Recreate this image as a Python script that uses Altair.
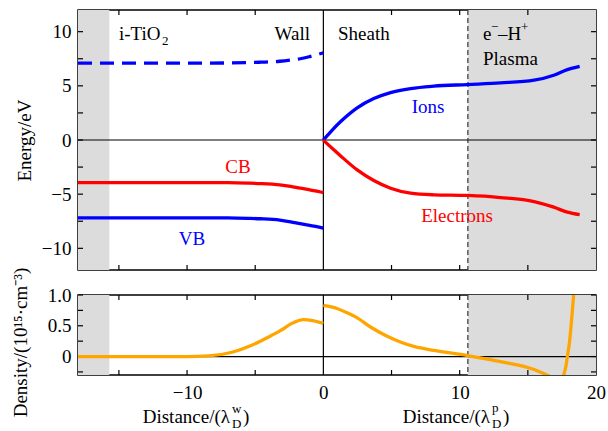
import altair as alt
import pandas as pd

FONT = "Liberation Serif"
FS = 19
FS_SMALL = 13
W, H1, H2 = 518, 260, 80

# ---------------- data ----------------
x_domain = [-18, 20]
e_domain = [-12, 12]
d_domain = [-0.3, 1.0]

band_x = [-18, -10, -7, -5.5, -4.6, -3.2, -2.4, -1.7, -1.0, -0.4, 0]
cb_y = [-3.93, -3.93, -3.94, -3.98, -4.02, -4.14, -4.28, -4.45, -4.6, -4.75, -4.85]
vb_y = [-7.18, -7.18, -7.19, -7.23, -7.27, -7.39, -7.55, -7.72, -7.88, -8.02, -8.13]
vac_y = [7.1, 7.1, 7.11, 7.14, 7.18, 7.27, 7.38, 7.5, 7.7, 7.9, 8.05]

sheath_x = [0, 0.6, 1.25, 2.48, 3.7, 4.93, 6.4, 8.1, 10.56, 13.0, 15.46, 16.9, 17.9, 18.8]
ions_y = [0, 0.85, 1.68, 2.97, 3.83, 4.38, 4.75, 4.97, 5.12, 5.27, 5.52, 5.98, 6.5, 6.8]
elec_y = [0, -0.72, -1.45, -2.76, -3.74, -4.45, -4.91, -5.06, -5.12, -5.31, -5.68, -6.2, -6.66, -6.9]

dens_left_x = [-18, -10, -8.4, -6.7, -5.3, -4.0, -3.16, -2.3, -1.45, -0.7, 0]
dens_left_y = [0, 0, 0.01, 0.07, 0.18, 0.32, 0.42, 0.54, 0.6, 0.58, 0.54]
dens_right_x = [0, 1.0, 1.74, 2.4, 3.46, 4.5, 5.6, 6.7, 8.1, 10.56, 13.0, 15.46, 16.6]
dens_right_y = [0.83, 0.78, 0.71, 0.64, 0.48, 0.35, 0.24, 0.16, 0.1, 0.016, -0.083, -0.21, -0.32]
dens_tail_x = [17.6, 17.8, 17.9, 18.06, 18.2, 18.36]
dens_tail_y = [-0.32, -0.15, 0, 0.24, 0.57, 1.0]

hatch_start = [-18, 10.6]
hatch_end = [-15.7, 20]
plasma_edge = [10.6]
zero = [0]

e_ticks = [-10, -7.5, -5, -2.5, 0, 2.5, 5, 7.5, 10]
e_labels = [-10, -5, 0, 5, 10]
d_ticks = [-0.25, 0, 0.25, 0.5, 0.75, 1.0]
d_labels = [0, 0.5, 1.0]
x_ticks = [-15, -10, -5, 5, 10, 15]
x_labels = [-10, 0, 10, 20]

BLUE = "#0000ff"
RED = "#ff0000"
ORANGE = "#ffa500"
HATCH = "#dcdcdc"

xs = alt.Scale(domain=x_domain, nice=False, zero=False)
es = alt.Scale(domain=e_domain, nice=False, zero=False)
ds = alt.Scale(domain=d_domain, nice=False, zero=False)


def df(**cols):
    return pd.DataFrame(cols)


def text(t, px, py, size=FS, color="black", align="left", baseline="middle", angle=0):
    return alt.Chart(df(t=[t])).mark_text(
        font=FONT, fontSize=size, color=color, align=align, baseline=baseline, angle=angle
    ).encode(x=alt.value(px), y=alt.value(py), text="t:N")


def make_panel(h, yscale, yaxis, xaxis, ticks_y, curves, texts):
    X = lambda f: alt.X(f, scale=xs, axis=xaxis)
    Y = lambda f: alt.Y(f, scale=yscale, axis=yaxis)
    layers = []
    layers.append(alt.Chart(df(a=hatch_start, b=hatch_end)).mark_rect(fill=HATCH).encode(
        x=X("a:Q"), x2="b:Q", y=alt.value(0), y2=alt.value(h)))
    layers.append(alt.Chart(df(v=zero)).mark_rule(color="black", strokeWidth=1.2).encode(y=Y("v:Q")))
    layers.append(alt.Chart(df(v=zero)).mark_rule(color="black", strokeWidth=1.2).encode(x=X("v:Q")))
    layers.append(alt.Chart(df(v=plasma_edge)).mark_rule(color="#333333", strokeWidth=1.2,
                                                         strokeDash=[5, 3]).encode(x=X("v:Q")))
    yt = df(v=ticks_y)
    layers.append(alt.Chart(yt).mark_rule(color="black", strokeWidth=1.2).encode(
        y=Y("v:Q"), x=alt.value(0), x2=alt.value(5)))
    layers.append(alt.Chart(yt).mark_rule(color="black", strokeWidth=1.2).encode(
        y=Y("v:Q"), x=alt.value(W - 5), x2=alt.value(W)))
    xt = df(v=x_ticks)
    layers.append(alt.Chart(xt).mark_rule(color="black", strokeWidth=1.2).encode(
        x=X("v:Q"), y=alt.value(0), y2=alt.value(5)))
    layers.append(alt.Chart(xt).mark_rule(color="black", strokeWidth=1.2).encode(
        x=X("v:Q"), y=alt.value(h - 5), y2=alt.value(h)))
    for xv, yv, color, dash in curves:
        kw = dict(color=color, strokeWidth=3.3, interpolate="monotone", clip=True)
        if dash:
            kw["strokeDash"] = dash
        layers.append(alt.Chart(df(x=xv, y=yv)).mark_line(**kw).encode(x=X("x:Q"), y=Y("y:Q")))
    layers.extend(texts)
    return alt.layer(*layers).properties(width=W, height=h)


# ---------------- top panel ----------------
e_axis = alt.Axis(values=e_labels, title="Energy/eV", titleFont=FONT, titleFontSize=FS,
                  titleFontWeight="normal", titleX=-54, titleY=H1 / 2, titleAngle=270,
                  titleAlign="center", titleBaseline="middle", labelPadding=7)

top_texts = [
    text("i-TiO", 41, 24),
    text("2", 84, 31, size=FS_SMALL),
    text("Wall", 232, 24, align="right"),
    text("Sheath", 260, 24),
    text("e", 405, 24),
    text("\u2212", 413, 17, size=FS_SMALL),
    text("\u2013H", 420, 24),
    text("+", 443, 17, size=FS_SMALL),
    text("Plasma", 405, 49),
    text("CB", 160, 157, color=RED, align="center"),
    text("VB", 114, 229, color=BLUE, align="center"),
    text("Ions", 350, 97, color=BLUE, align="center"),
    text("Electrons", 379, 206, color=RED, align="center"),
]

top = make_panel(
    H1, es, e_axis, None, e_ticks,
    [
        (band_x, vac_y, BLUE, [14, 8]),
        (band_x, cb_y, RED, None),
        (band_x, vb_y, BLUE, None),
        (sheath_x, ions_y, BLUE, None),
        (sheath_x, elec_y, RED, None),
    ],
    top_texts,
)

# ---------------- bottom panel ----------------
d_axis = alt.Axis(values=d_labels, title="Density/(10\u00b9\u2075\u00b7cm\u207b\u00b3)", titleFont=FONT,
                  titleFontSize=FS, titleFontWeight="normal", titleX=-58, titleY=47, titleAngle=270,
                  titleAlign="center", titleBaseline="middle", labelPadding=7,
                  labelExpr="datum.value == 0 ? '0' : format(datum.value, '.1f')")
x_axis = alt.Axis(values=x_labels, title=None, labelPadding=8, labelFlush=False)

bot_texts = [
    text("Distance/(\u03bb", 152, 122, align="right"),
    text("w", 154, 114, size=FS_SMALL),
    text("D", 154, 129, size=FS_SMALL),
    text(")", 165, 122),
    text("Distance/(\u03bb", 412, 122, align="right"),
    text("p", 414, 113, size=FS_SMALL),
    text("D", 414, 129, size=FS_SMALL),
    text(")", 425, 122),
]

bottom = make_panel(
    H2, ds, d_axis, x_axis, d_ticks,
    [
        (dens_left_x, dens_left_y, ORANGE, None),
        (dens_right_x, dens_right_y, ORANGE, None),
        (dens_tail_x, dens_tail_y, ORANGE, None),
    ],
    bot_texts,
)

chart = alt.vconcat(top, bottom, spacing=25, bounds="flush").properties(
    padding={"left": 10, "top": 8, "right": 0, "bottom": 0}
).configure_view(stroke="black", strokeWidth=1.5).configure_axis(
    ticks=False, domain=False, grid=False, labelFont=FONT, labelFontSize=FS, labelColor="black",
    titleColor="black"
)

chart.save("out.html", embed_options={"renderer": "svg", "actions": False})
